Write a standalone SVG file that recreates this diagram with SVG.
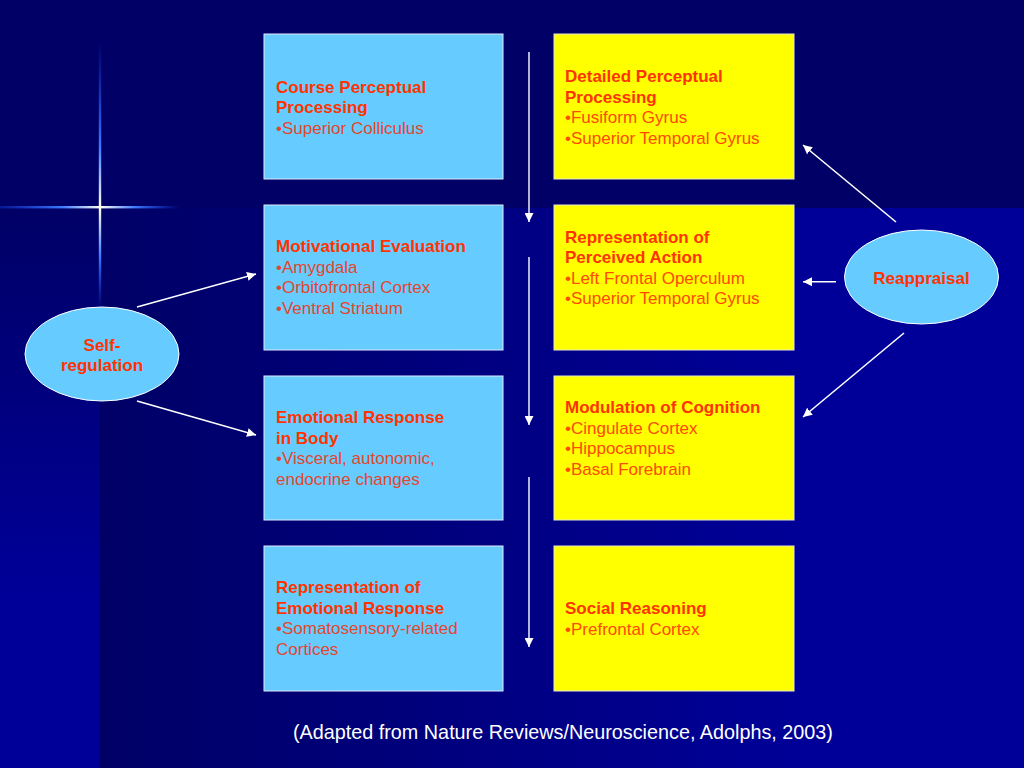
<svg xmlns="http://www.w3.org/2000/svg" width="1024" height="768" viewBox="0 0 1024 768">
<defs>
<linearGradient id="bgRight" x1="100" y1="0" x2="820" y2="0" gradientUnits="userSpaceOnUse">
<stop offset="0" stop-color="#000066"/>
<stop offset="1" stop-color="#000099"/>
</linearGradient>
<linearGradient id="bgLeft" x1="0" y1="208" x2="0" y2="600" gradientUnits="userSpaceOnUse">
<stop offset="0" stop-color="#000066"/>
<stop offset="1" stop-color="#000099"/>
</linearGradient>
<linearGradient id="glowH" x1="0" y1="0" x2="180" y2="0" gradientUnits="userSpaceOnUse">
<stop offset="0" stop-color="#1a4dff" stop-opacity="0.3"/>
<stop offset="0.35" stop-color="#3f7bff"/>
<stop offset="0.56" stop-color="#ffffee"/>
<stop offset="0.75" stop-color="#3f7bff"/>
<stop offset="1" stop-color="#1a4dff" stop-opacity="0"/>
</linearGradient>
<linearGradient id="glowV" x1="0" y1="40" x2="0" y2="310" gradientUnits="userSpaceOnUse">
<stop offset="0" stop-color="#1a4dff" stop-opacity="0"/>
<stop offset="0.4" stop-color="#3f7bff"/>
<stop offset="0.62" stop-color="#ffffee"/>
<stop offset="0.8" stop-color="#3f7bff"/>
<stop offset="1" stop-color="#1a4dff" stop-opacity="0"/>
</linearGradient>
<marker id="ahv" viewBox="0 0 10 10" refX="10" refY="5" markerWidth="9" markerHeight="9" orient="auto" markerUnits="userSpaceOnUse">
<path d="M0,0 L10,5 L0,10 z" fill="#ffffff"/>
</marker>
</defs>
<style>
.blue{fill:#66CCFF;stroke:#dfe9ff;stroke-width:1}
.yellow{fill:#FFFF00;stroke:#e8e8d0;stroke-width:1}
.t{font-family:"Liberation Sans",Arial,sans-serif;font-size:17px;fill:#FF3300}
.b{font-weight:bold}
.n{fill:#E0472E}
.ny{fill:#FF4A00}
.ell{fill:#66CCFF;stroke:#ffffff;stroke-width:1}
.c{stroke:#ffffff;stroke-width:1.6;fill:none}
.v{stroke:#e0e0f0;stroke-width:1.6;fill:none}
.cite{font-family:"Liberation Sans",Arial,sans-serif;font-size:19.8px;fill:#ffffff}
</style>

<g id="background">
<rect x="0" y="0" width="1024" height="768" fill="#000099"/>
<rect x="100" y="208" width="924" height="560" fill="url(#bgRight)"/>
<rect x="0" y="208" width="100" height="560" fill="url(#bgLeft)"/>
<rect x="0" y="0" width="1024" height="208" fill="#000066"/>
<rect x="0" y="206" width="180" height="2.4" fill="url(#glowH)"/>
<rect x="98.8" y="40" width="2.4" height="270" fill="url(#glowV)"/>
</g>

<g id="n-course">
<rect class="blue" x="264" y="34" width="239" height="145"/>
<text class="t b" x="276" y="92.7">Course Perceptual</text>
<text class="t b" x="276" y="113">Processing</text>
<text class="t n" x="276" y="133.5">•Superior Colliculus</text>
</g>

<g id="n-motivational">
<rect class="blue" x="264" y="205" width="239" height="145"/>
<text class="t b" x="276" y="252.3">Motivational Evaluation</text>
<text class="t n" x="276" y="272.7">•Amygdala</text>
<text class="t n" x="276" y="293">•Orbitofrontal Cortex</text>
<text class="t n" x="276" y="313.5">•Ventral Striatum</text>
</g>

<g id="n-emotional">
<rect class="blue" x="264" y="376" width="239" height="144"/>
<text class="t b" x="276" y="423.3">Emotional Response</text>
<text class="t b" x="276" y="443.7">in Body</text>
<text class="t n" x="276" y="464">•Visceral, autonomic,</text>
<text class="t n" x="276" y="484.5">endocrine changes</text>
</g>

<g id="n-representation-emotional">
<rect class="blue" x="264" y="546" width="239" height="145"/>
<text class="t b" x="276" y="593.3">Representation of</text>
<text class="t b" x="276" y="613.7">Emotional Response</text>
<text class="t n" x="276" y="634">•Somatosensory-related</text>
<text class="t n" x="276" y="654.5">Cortices</text>
</g>

<g id="n-detailed">
<rect class="yellow" x="554" y="34" width="240" height="145"/>
<text class="t b" x="565" y="82.3">Detailed Perceptual</text>
<text class="t b" x="565" y="102.7">Processing</text>
<text class="t ny" x="565" y="123">•Fusiform Gyrus</text>
<text class="t ny" x="565" y="143.5">•Superior Temporal Gyrus</text>
</g>

<g id="n-perceived-action">
<rect class="yellow" x="554" y="205" width="240" height="145"/>
<text class="t b" x="565" y="242.7">Representation of</text>
<text class="t b" x="565" y="263">Perceived Action</text>
<text class="t ny" x="565" y="283.5">•Left Frontal Operculum</text>
<text class="t ny" x="565" y="304">•Superior Temporal Gyrus</text>
</g>

<g id="n-modulation">
<rect class="yellow" x="554" y="376" width="240" height="144"/>
<text class="t b" x="565" y="413">Modulation of Cognition</text>
<text class="t ny" x="565" y="433.5">•Cingulate Cortex</text>
<text class="t ny" x="565" y="454">•Hippocampus</text>
<text class="t ny" x="565" y="474.5">•Basal Forebrain</text>
</g>

<g id="n-social">
<rect class="yellow" x="554" y="546" width="240" height="145"/>
<text class="t b" x="565" y="614.3">Social Reasoning</text>
<text class="t ny" x="565" y="635">•Prefrontal Cortex</text>
</g>

<g id="n-self-regulation">
<ellipse class="ell" cx="102" cy="354" rx="77" ry="47"/>
<text class="t b" x="102" y="351" text-anchor="middle">Self-</text>
<text class="t b" x="102" y="371" text-anchor="middle">regulation</text>
</g>

<g id="n-reappraisal">
<ellipse class="ell" cx="921.5" cy="277" rx="77" ry="47"/>
<text class="t b" x="921.5" y="283.5" text-anchor="middle">Reappraisal</text>
</g>

<g id="connectors">
<line class="v" x1="529" y1="52" x2="529" y2="222" marker-end="url(#ahv)"/>
<line class="v" x1="529" y1="257" x2="529" y2="425" marker-end="url(#ahv)"/>
<line class="v" x1="529" y1="477" x2="529" y2="647" marker-end="url(#ahv)"/>
<line class="c" x1="137" y1="307" x2="256" y2="274" marker-end="url(#ahv)"/>
<line class="c" x1="137" y1="401" x2="256" y2="435" marker-end="url(#ahv)"/>
<line class="c" x1="896" y1="222" x2="803" y2="145" marker-end="url(#ahv)"/>
<line class="c" x1="836" y1="281.7" x2="803" y2="281.7" marker-end="url(#ahv)"/>
<line class="c" x1="904" y1="333" x2="803" y2="417" marker-end="url(#ahv)"/>
</g>

<g id="citation">
<text class="cite" x="293" y="738.5">(Adapted from Nature Reviews/Neuroscience, Adolphs, 2003)</text>
</g>
</svg>
